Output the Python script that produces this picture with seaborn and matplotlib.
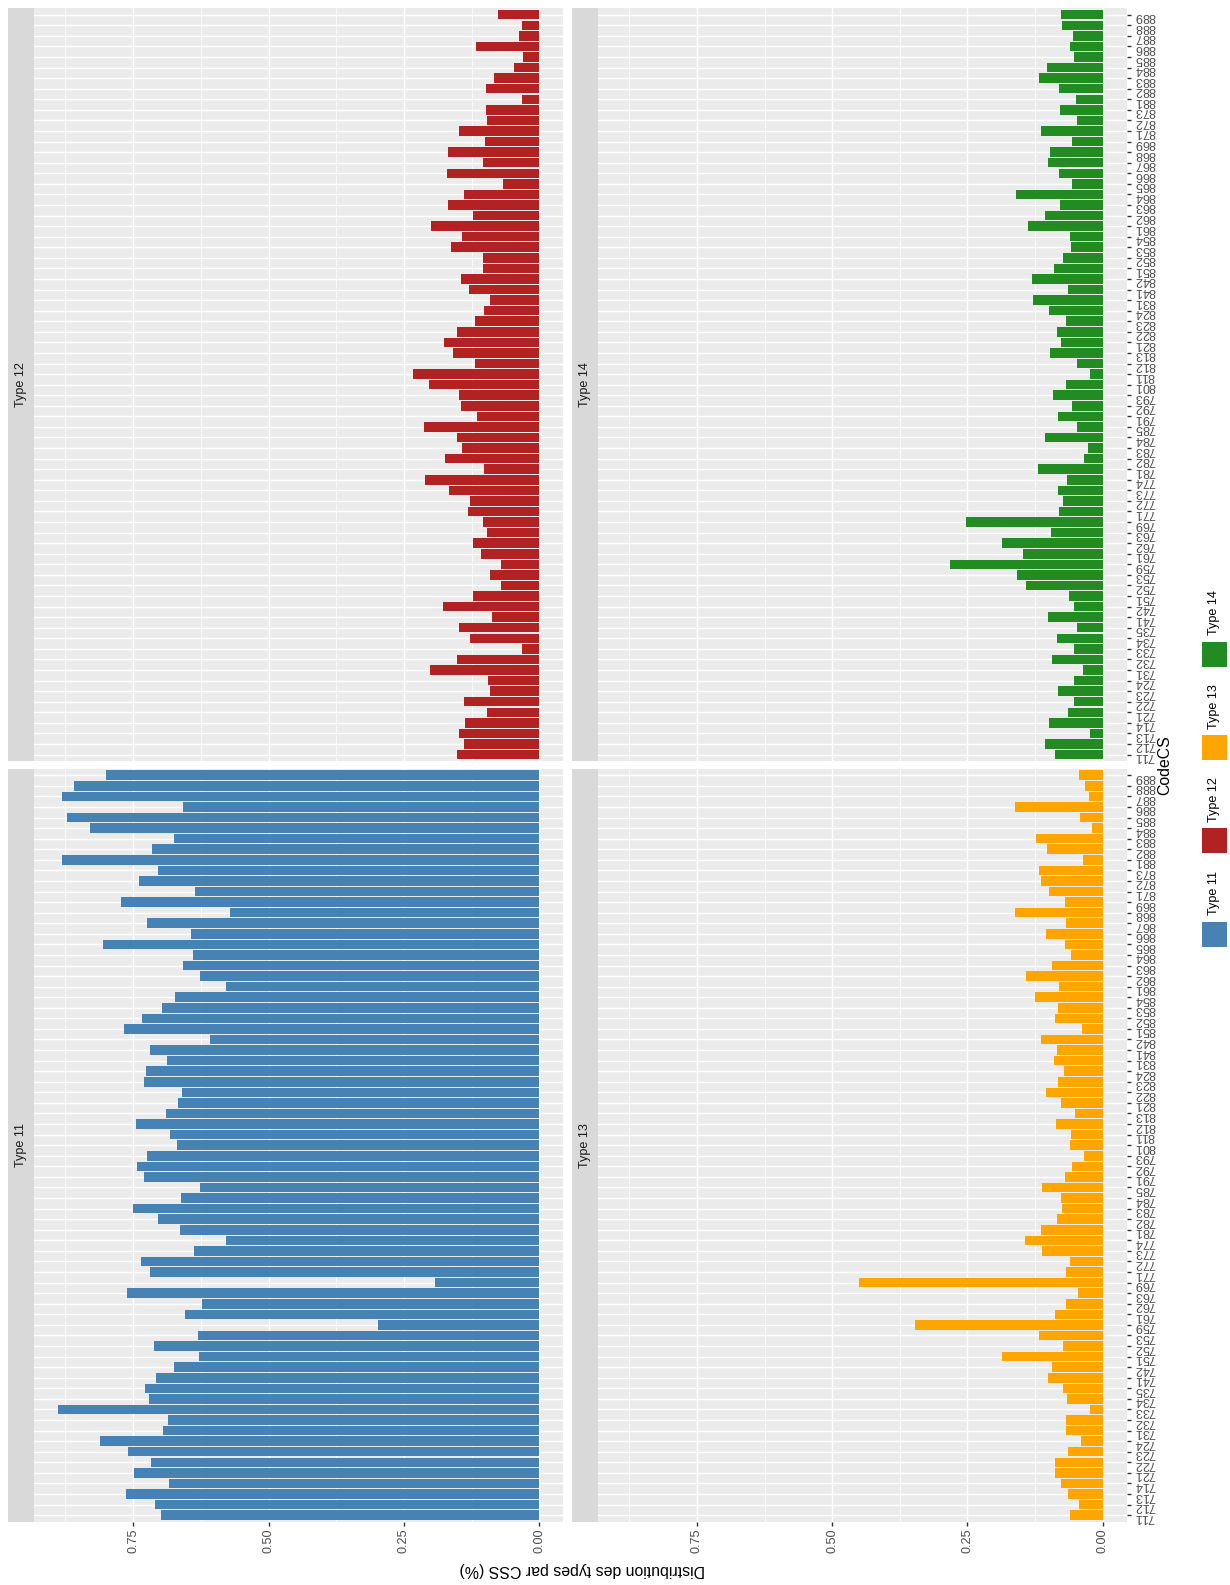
import numpy as np
import pandas as pd
import matplotlib
matplotlib.use("Agg")
import matplotlib.pyplot as plt
import seaborn as sns
from matplotlib.patches import Rectangle

# ---------------- data ----------------
codes = ["711", "712", "713", "714", "721", "722", "723", "724", "731", "732", "733", "734", "735",
         "741", "742", "751", "752", "753", "759", "761", "762", "763", "769", "771", "772", "773", "774",
         "781", "782", "783", "784", "785", "791", "792", "793", "801", "811", "812", "813", "821", "822",
         "823", "824", "831", "841", "842", "851", "852", "853", "854", "861", "862", "863", "864", "865",
         "866", "867", "868", "869", "871", "872", "873", "881", "882", "883", "884", "885", "886", "887",
         "888", "889"]

type11 = [0.699, 0.710, 0.763, 0.683, 0.749, 0.717, 0.760, 0.811, 0.694, 0.686, 0.889, 0.721, 0.728,
          0.708, 0.674, 0.629, 0.712, 0.630, 0.298, 0.654, 0.622, 0.761, 0.192, 0.718, 0.736, 0.637, 0.578,
          0.663, 0.704, 0.751, 0.662, 0.626, 0.729, 0.742, 0.724, 0.669, 0.681, 0.745, 0.689, 0.667, 0.659,
          0.729, 0.727, 0.688, 0.719, 0.608, 0.766, 0.734, 0.696, 0.672, 0.579, 0.627, 0.658, 0.639, 0.805,
          0.644, 0.724, 0.571, 0.772, 0.635, 0.740, 0.704, 0.881, 0.716, 0.675, 0.829, 0.872, 0.657, 0.881,
          0.859, 0.800]

type12 = [0.152, 0.139, 0.148, 0.138, 0.097, 0.139, 0.092, 0.094, 0.202, 0.152, 0.033, 0.128, 0.149,
          0.088, 0.178, 0.122, 0.071, 0.092, 0.070, 0.107, 0.123, 0.097, 0.104, 0.132, 0.129, 0.166, 0.211,
          0.102, 0.174, 0.142, 0.152, 0.213, 0.115, 0.144, 0.149, 0.203, 0.234, 0.119, 0.160, 0.176, 0.152,
          0.119, 0.102, 0.091, 0.130, 0.145, 0.104, 0.104, 0.163, 0.143, 0.201, 0.123, 0.168, 0.140, 0.068,
          0.170, 0.104, 0.168, 0.100, 0.148, 0.097, 0.099, 0.033, 0.098, 0.083, 0.046, 0.031, 0.117, 0.038,
          0.032, 0.076]

type13 = [0.060, 0.044, 0.064, 0.078, 0.089, 0.089, 0.064, 0.041, 0.067, 0.067, 0.023, 0.066, 0.073,
          0.102, 0.093, 0.186, 0.073, 0.118, 0.347, 0.089, 0.068, 0.046, 0.450, 0.067, 0.060, 0.113, 0.144,
          0.114, 0.084, 0.076, 0.077, 0.112, 0.070, 0.057, 0.034, 0.060, 0.059, 0.086, 0.052, 0.077, 0.104,
          0.083, 0.071, 0.091, 0.084, 0.115, 0.038, 0.088, 0.082, 0.125, 0.081, 0.142, 0.094, 0.059, 0.070,
          0.104, 0.068, 0.163, 0.070, 0.100, 0.114, 0.118, 0.036, 0.103, 0.123, 0.019, 0.042, 0.163, 0.025,
          0.032, 0.044]

type14 = [0.089, 0.107, 0.024, 0.099, 0.064, 0.053, 0.083, 0.053, 0.036, 0.094, 0.053, 0.084, 0.047,
          0.101, 0.054, 0.062, 0.142, 0.158, 0.283, 0.148, 0.187, 0.095, 0.253, 0.081, 0.074, 0.082, 0.066,
          0.120, 0.035, 0.028, 0.107, 0.048, 0.083, 0.056, 0.092, 0.067, 0.024, 0.048, 0.098, 0.078, 0.084,
          0.068, 0.099, 0.129, 0.064, 0.130, 0.091, 0.074, 0.059, 0.060, 0.138, 0.107, 0.079, 0.160, 0.056,
          0.081, 0.102, 0.097, 0.056, 0.115, 0.048, 0.079, 0.049, 0.081, 0.117, 0.103, 0.053, 0.061, 0.055,
          0.075, 0.077]

type_names = ["Type 11", "Type 12", "Type 13", "Type 14"]
type_colors = ["#4682B4", "#B22222", "#FFA500", "#228B22"]
value_ticks = [0.0, 0.25, 0.50, 0.75]
value_tick_labels = ["0.00", "0.25", "0.50", "0.75"]
value_minor_ticks = [0.125, 0.375, 0.625, 0.875]
x_title = "CodeCS"
y_title = "Distribution des types par CSS (%)"

df = pd.DataFrame({
    "CodeCS": codes * 4,
    "Type": np.repeat(type_names, len(codes)),
    "value": type11 + type12 + type13 + type14,
})

# ---------------- style ----------------
sns.set_theme(style="white")
plt.rcParams["font.family"] = ["Liberation Sans", "DejaVu Sans"]

W, H = 1230, 1585
fig = plt.figure(figsize=(W / 100, H / 100), dpi=100)
fig.patch.set_facecolor("white")


def frect(x0, y0, x1, y1):
    return [x0 / W, 1 - y1 / H, (x1 - x0) / W, (y1 - y0) / H]


# panel boxes in image pixels (x0, y0, x1, y1): chart is drawn rotated
col_x = [(33.7, 563.5), (597.7, 1126.8)]
row_y = [(8.4, 760.9), (768.9, 1521.5)]
strip_w = 26.0
layout = {  # type -> (column, row)
    "Type 11": (0, 1),
    "Type 12": (0, 0),
    "Type 13": (1, 1),
    "Type 14": (1, 0),
}

vmax = df["value"].max()
pad = 0.05 * vmax
tick_fs = 9.1
grey_txt = "#4D4D4D"

for tname, tcol in zip(type_names, type_colors):
    ci, ri = layout[tname]
    x0, x1 = col_x[ci]
    y0, y1 = row_y[ri]
    ax = fig.add_axes(frect(x0, y0, x1, y1))
    ax.set_facecolor("#EBEBEB")
    sub = df[df["Type"] == tname]
    sns.barplot(data=sub, x="value", y="CodeCS", order=codes, orient="h",
                color=tcol, saturation=1, width=0.9, errorbar=None,
                linewidth=0, ax=ax)
    ax.set_ylim(-0.6, len(codes) - 1 + 0.6)
    ax.set_xlim(vmax + pad, -pad)
    ax.set_axisbelow(True)
    ax.set_xticks(value_ticks)
    ax.set_xticks(value_minor_ticks, minor=True)
    ax.grid(which="major", axis="both", color="white", linewidth=1.07)
    ax.grid(which="minor", axis="x", color="white", linewidth=0.53)
    for s in ax.spines.values():
        s.set_visible(False)
    ax.set_xlabel("")
    ax.set_ylabel("")
    ax.tick_params(axis="x", which="minor", bottom=False, top=False, labelbottom=False)
    if ri == 1:
        ax.set_xticklabels(value_tick_labels)
        ax.tick_params(axis="x", which="major", bottom=True, labelbottom=True,
                       length=2.9, width=1.0, color="#333333", labelcolor=grey_txt,
                       labelsize=tick_fs, labelrotation=90, pad=2.3)
    else:
        ax.tick_params(axis="x", which="major", bottom=False, labelbottom=False)
    if ci == 1:
        ax.tick_params(axis="y", left=False, labelleft=False, right=True, labelright=True,
                       length=2.9, width=1.0, color="#333333", labelcolor=grey_txt,
                       labelsize=tick_fs, labelrotation=180, pad=2.3)
    else:
        ax.tick_params(axis="y", left=False, labelleft=False, right=False, labelright=False)

    # strip (on the left, since the chart is rotated)
    sx0 = x0 - strip_w
    fig.add_artist(Rectangle((sx0 / W, 1 - y1 / H), strip_w / W, (y1 - y0) / H,
                             transform=fig.transFigure, facecolor="#D9D9D9",
                             edgecolor="none", zorder=0))
    fig.text((sx0 + strip_w / 2) / W, 1 - (y0 + y1) / 2 / H, tname, rotation=90,
             ha="center", va="center", fontsize=tick_fs, color="#1A1A1A")

# axis titles
fig.text(582 / W, 1 - 1569 / H, y_title, rotation=180, ha="center", va="center",
         fontsize=11.4, color="black")
fig.text(1165 / W, 1 - 765 / H, x_title, rotation=90, ha="center", va="center",
         fontsize=11.4, color="black")

# legend (rotated: keys stacked vertically, labels above each key)
key = 25.0
key_x = 1201.7
key_top0 = 921.7
key_step = -93.3
for i, (tname, tcol) in enumerate(zip(type_names, type_colors)):
    ky = key_top0 + i * key_step
    fig.add_artist(Rectangle((key_x / W, 1 - (ky + key) / H), key / W, key / H,
                             transform=fig.transFigure, facecolor=tcol,
                             edgecolor="none"))
    fig.text((key_x + key / 2) / W, 1 - (ky - 6.5) / H, tname, rotation=90,
             ha="center", va="bottom", fontsize=tick_fs, color="black")

fig.savefig("out.png", dpi=100)
